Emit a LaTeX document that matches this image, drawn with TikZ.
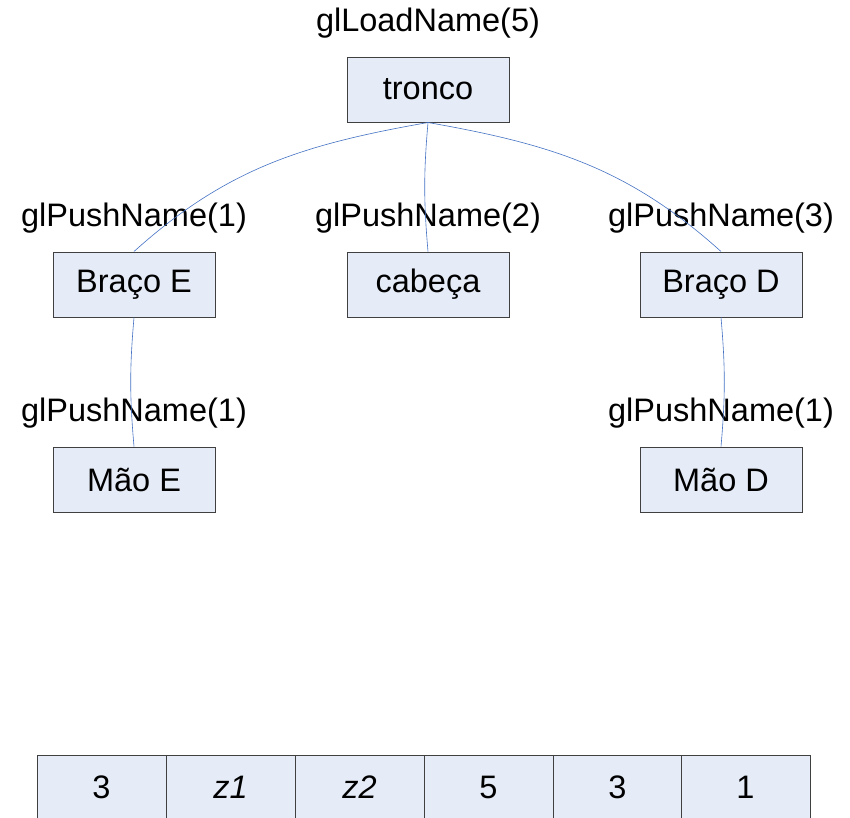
\documentclass[tikz,border=0pt]{standalone}
\usepackage{fontspec}
\setmainfont{Liberation Sans}
\definecolor{boxfill}{RGB}{230,236,247}
\definecolor{boxline}{RGB}{64,64,64}
\definecolor{linkblue}{RGB}{68,114,196}
\begin{document}
\begin{tikzpicture}[x=1pt,y=-1pt,
  part/.style={draw=boxline,fill=boxfill,line width=1pt,minimum width=162pt,minimum height=65pt,inner sep=0pt,font=\fontsize{32.5}{38}\selectfont},
  cell/.style={draw=boxline,fill=boxfill,line width=1pt,minimum width=129pt,minimum height=65pt,inner sep=0pt,font=\fontsize{32.5}{38}\selectfont},
  lbl/.style={inner sep=0pt,font=\fontsize{32.5}{38}\selectfont},
  link/.style={draw=linkblue,line width=0.6pt}]
\clip (0,0) rectangle (850,817);
\fill[white] (0,0) rectangle (850,817);
\node[part] (tronco) at (428,89.5) {tronco};
\node[part] (braE) at (134,284.5) {Braço E};
\node[part] (cab) at (428,284.5) {cabeça};
\node[part] (braD) at (721,284.5) {Braço D};
\node[part] (maoE) at (134,479.5) {Mão E};
\node[part] (maoD) at (721,479.5) {Mão D};
\node[lbl] (l0) at (428,23) {glLoadName(5)};
\node[lbl] (l1) at (134,218) {glPushName(1)};
\node[lbl] (l2) at (428,218) {glPushName(2)};
\node[lbl] (l3) at (721,218) {glPushName(3)};
\node[lbl] (l4) at (134,413) {glPushName(1)};
\node[lbl] (l5) at (721,413) {glPushName(1)};
\draw[link] (tronco.south) to[out=190,in=42] (braE.north);
\draw[link] (tronco.south) to[out=265,in=95] (cab.north);
\draw[link] (tronco.south) to[out=-10,in=138] (braD.north);
\draw[link] (braE.south) to[out=265,in=95] (maoE.north);
\draw[link] (braD.south) to[out=275,in=85] (maoD.north);
\node[cell] (c1) at (101.5,787.5) {3};
\node[cell] (c2) at (230.5,787.5) {\itshape z1};
\node[cell] (c3) at (359.5,787.5) {\itshape z2};
\node[cell] (c4) at (488.5,787.5) {5};
\node[cell] (c5) at (617.5,787.5) {3};
\node[cell] (c6) at (745.5,787.5) {1};
\end{tikzpicture}
\end{document}
